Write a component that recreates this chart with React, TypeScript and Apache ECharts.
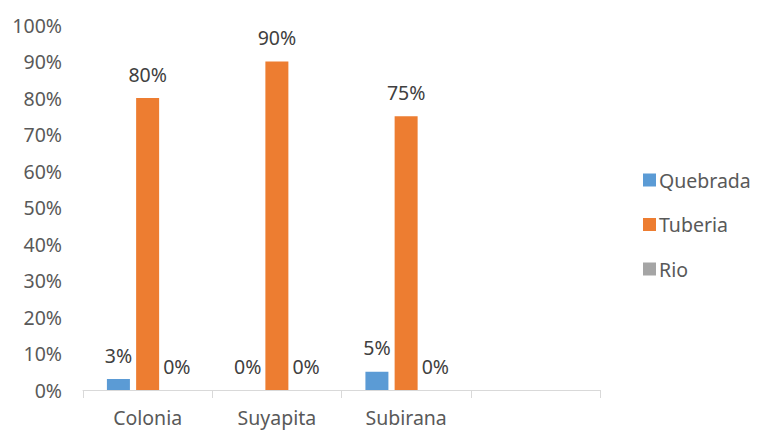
import React, { useEffect, useRef } from "react";
import * as echarts from "echarts";

const categories = ["Colonia", "Suyapita", "Subirana", ""];
const quebrada = [3, 0, 5, null];
const tuberia = [80, 90, 75, null];
const rio = [0, 0, 0, null];
const yTicks = [0, 10, 20, 30, 40, 50, 60, 70, 80, 90, 100];

const FONT = "Noto Sans";
const TEXT = "#595959";
const FS = 19.5;

export default function App() {
  const ref = useRef<HTMLDivElement>(null);
  useEffect(() => {
    const chart = echarts.init(ref.current!, null, { renderer: "svg" });
    const label = {
      show: true,
      position: "top",
      distance: 14,
      formatter: (p: any) => p.value + "%",
      color: "#404040",
      fontFamily: FONT,
      fontSize: FS,
    };
    chart.setOption({
      animation: false,
      backgroundColor: "#ffffff",
      grid: { left: 83, right: 159, top: 25, bottom: 41, containLabel: false },
      legend: {
        orient: "vertical",
        left: 638,
        top: 165,
        itemWidth: 13,
        itemHeight: 13,
        itemGap: 24.5,
        icon: "rect",
        textStyle: { color: TEXT, fontFamily: FONT, fontSize: FS, padding: [0, 0, 0, -2] },
        data: ["Quebrada", "Tuberia", "Rio"],
      },
      xAxis: {
        type: "category",
        data: categories,
        axisLine: { show: true, lineStyle: { color: "#d9d9d9", width: 1 } },
        axisTick: { show: true, length: 8, lineStyle: { color: "#d9d9d9" } },
        axisLabel: { color: TEXT, fontFamily: FONT, fontSize: FS, margin: 17 },
      },
      yAxis: {
        type: "value",
        min: 0,
        max: 100,
        interval: yTicks[1] - yTicks[0],
        splitLine: { show: false },
        axisLine: { show: false },
        axisTick: { show: false },
        axisLabel: {
          color: TEXT,
          fontFamily: FONT,
          fontSize: FS,
          margin: 21,
          formatter: (v: number) => v + "%",
        },
      },
      series: [
        {
          name: "Quebrada",
          type: "bar",
          data: quebrada,
          itemStyle: { color: "#5b9bd5" },
          barWidth: 23,
          barGap: "27%",
          label,
        },
        {
          name: "Tuberia",
          type: "bar",
          data: tuberia,
          itemStyle: { color: "#ed7d31" },
          barWidth: 23,
          barGap: "27%",
          label,
        },
        {
          name: "Rio",
          type: "bar",
          data: rio,
          itemStyle: { color: "#a5a5a5" },
          barWidth: 23,
          barGap: "27%",
          label,
        },
      ],
    });
    return () => chart.dispose();
  }, []);
  return <div ref={ref} style={{ width: 759, height: 431, position: "absolute", left: 0, top: 0 }} />;
}
